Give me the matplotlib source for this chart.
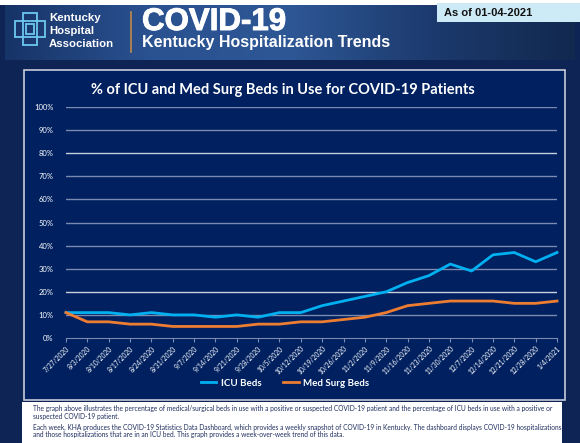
import numpy as np
import matplotlib
matplotlib.use('Agg')
import matplotlib.pyplot as plt
import matplotlib.patheffects as pe
from matplotlib.patches import Rectangle
from matplotlib.lines import Line2D

W, H = 580, 443

dates = ['7/27/2020', '8/3/2020', '8/10/2020', '8/17/2020', '8/24/2020', '8/31/2020',
         '9/7/2020', '9/14/2020', '9/21/2020', '9/28/2020', '10/5/2020', '10/12/2020',
         '10/19/2020', '10/26/2020', '11/2/2020', '11/9/2020', '11/16/2020', '11/23/2020',
         '11/30/2020', '12/7/2020', '12/14/2020', '12/21/2020', '12/28/2020', '1/4/2021']
icu_beds = [11, 11, 11, 10, 11, 10, 10, 9, 10, 9, 11, 11,
            14, 16, 18, 20, 24, 27, 32, 29, 36, 37, 33, 37]
med_surg_beds = [11, 7, 7, 6, 6, 5, 5, 5, 5, 6, 6, 7,
                 7, 8, 9, 11, 14, 15, 16, 16, 16, 15, 15, 16]
y_ticks = [0, 10, 20, 30, 40, 50, 60, 70, 80, 90, 100]

notes = [
    "The graph above illustrates the percentage of medical/surgical beds in use with a positive or suspected COVID-19 patient and the percentage of ICU beds in use with a positive or",
    "suspected COVID-19 patient.",
    "Each week, KHA produces the COVID-19 Statistics Data Dashboard, which provides a weekly snapshot of COVID-19 in Kentucky. The dashboard displays COVID-19 hospitalizations",
    "and those hospitalizations that are in an ICU bed. This graph provides a week-over-week trend of this data.",
]

fig = plt.figure(figsize=(5.8, 4.43), dpi=100)
fig.patch.set_facecolor('#0e2455')


def fx(x):
    return x / W


def fy(y):
    return 1 - y / H


def rect(x, y, w, h, z=-1, **kw):
    fig.add_artist(Rectangle((fx(x), fy(y + h)), w / W, h / H,
                             transform=fig.transFigure, zorder=z, **kw))


# top strip and banner
rect(0, 0, 580, 5, fc='white', ec='none')
bax = fig.add_axes([fx(5), fy(60), 570 / W, 55 / H], zorder=0)
grad = np.linspace(0, 1, 200)[None, :]
bax.imshow(grad, aspect='auto', cmap=matplotlib.colors.LinearSegmentedColormap.from_list(
    'b', ['#173468', '#2a5190', '#2e5795', '#1c3a6e', '#12294f']), extent=[0, 1, 0, 1])
bax.axis('off')

# logo
for (x, y, w, h) in [(23, 13, 14, 32), (15, 21, 30, 16), (26, 24, 8, 10)]:
    rect(x, y, w, h, z=3, fc='none', ec='#6cc8f0', lw=1.3)
for i, s in enumerate(['Kentucky', 'Hospital', 'Association']):
    fig.text(fx(49), fy(18 + i * 13), s, color='white', fontsize=8.2, weight='bold',
             family='Liberation Sans', va='center', zorder=3)
fig.add_artist(Line2D([fx(131), fx(131)], [fy(12), fy(52)], transform=fig.transFigure,
                      color='#c08a4a', lw=1.2, zorder=3))
fig.text(fx(142), fy(22), 'COVID-19', color='white', fontsize=22.5, weight='heavy',
         family='Liberation Sans', va='center', zorder=3,
         path_effects=[pe.withStroke(linewidth=0.7, foreground='white')])
fig.text(fx(142), fy(43), 'Kentucky Hospitalization Trends', color='white', fontsize=11.5,
         weight='bold', family='Liberation Sans', va='center', zorder=3)

rect(437, 3, 145, 19, z=3, fc='#cdeaf7', ec='none')
fig.text(fx(444), fy(12.5), 'As of 01-04-2021', color='#111111', fontsize=8,
         weight='bold', family='Liberation Sans', va='center', zorder=4)

# chart panel and notes box
rect(24, 70, 541, 330, fc='#002060', ec='#c8ccd8', lw=1.2)
rect(22, 402, 540, 41, fc='white', ec='none')
for s, y in zip(notes, [409, 416, 427, 434]):
    fig.text(fx(33), fy(y), s, color='#1f2f5f', fontsize=4.75, family='Lato', va='center')

fig.text(fx(283), fy(90), '% of ICU and Med Surg Beds in Use for COVID-19 Patients',
         color='white', fontsize=10.5, weight='bold', family='Lato', ha='center', va='center')

ax = fig.add_axes([fx(66), fy(338), (557 - 66) / W, (338 - 107) / H], zorder=2)
ax.set_facecolor('none')
x = np.arange(len(dates))
for t in y_ticks[1:]:
    c = '#c9cfdc' if t in (20, 80) else '#7b8bb0'
    ax.axhline(t, color=c, lw=1.0, zorder=1)
ax.plot(x, icu_beds, color='#00b0f0', lw=2.0, label='ICU Beds', zorder=3, clip_on=False)
ax.plot(x, med_surg_beds, color='#ed7d31', lw=2.0, label='Med Surg Beds', zorder=3, clip_on=False)
ax.set_xlim(0, len(dates) - 1)
ax.set_ylim(0, 100)
ax.set_yticks(y_ticks)
ax.set_yticklabels([f'{t}%' for t in y_ticks])
ax.set_xticks(x)
ax.set_xticklabels(dates, rotation=45, ha='right', rotation_mode='anchor')
for s in ['top', 'right', 'left']:
    ax.spines[s].set_visible(False)
ax.spines['bottom'].set_color('#7b8bb0')
ax.tick_params(axis='y', length=0, pad=9, labelsize=5.5, labelcolor='white')
ax.tick_params(axis='x', length=3, color='#7b8bb0', pad=2, labelsize=4.8, labelcolor='white')
for lab in ax.get_xticklabels() + ax.get_yticklabels():
    lab.set_family('Lato')

fig.legend(handles=ax.get_lines()[-2:], loc='center', bbox_to_anchor=(fx(285), fy(383)),
           ncol=2, frameon=False, labelcolor='white', prop={'family': 'Lato', 'weight': 'bold', 'size': 7},
           handlelength=1.6, columnspacing=2.2, handletextpad=0.5)

fig.savefig('out.png', dpi=100, facecolor=fig.get_facecolor())
